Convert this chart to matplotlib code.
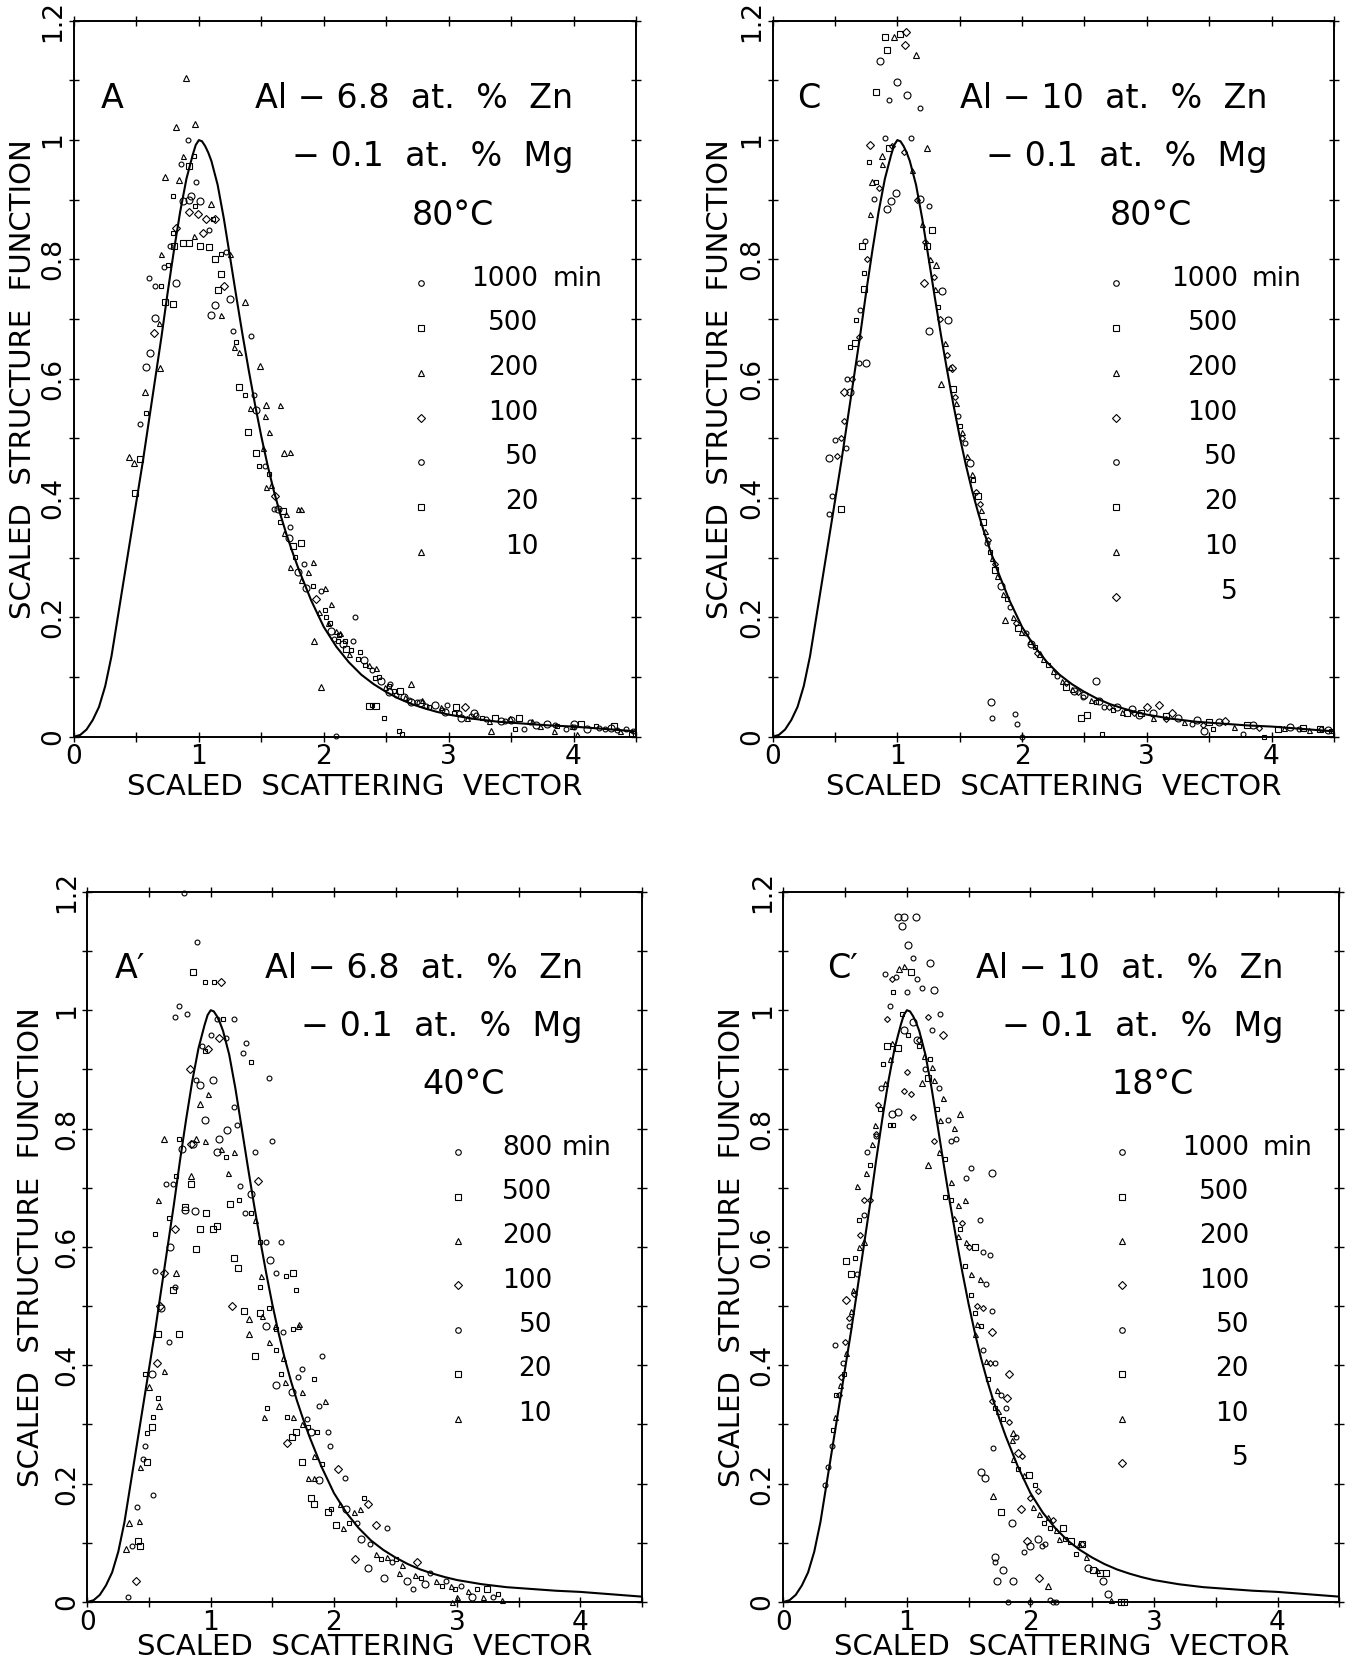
import matplotlib
matplotlib.use("Agg")
import matplotlib.pyplot as plt
from matplotlib.ticker import MultipleLocator

plt.rcParams['font.family'] = ['DejaVu Sans']

# scaling function (solid line); same in all four panels
curve_x = [0, 0.05, 0.1, 0.15, 0.2, 0.25, 0.3, 0.35, 0.4, 0.45, 0.5, 0.55, 0.6,
           0.65, 0.7, 0.75, 0.8, 0.85, 0.9, 0.95, 0.975, 1.0, 1.025, 1.05, 1.075,
           1.1, 1.15, 1.2, 1.25, 1.3, 1.35, 1.4, 1.45, 1.5, 1.55, 1.6, 1.65, 1.7,
           1.75, 1.8, 1.9, 2.0, 2.1, 2.2, 2.3, 2.4, 2.5, 2.6, 2.7, 2.8, 2.9, 3.0,
           3.2, 3.4, 3.6, 3.8, 4.0, 4.25, 4.5]
curve_y = [0, 0.003, 0.012, 0.028, 0.05, 0.085, 0.135, 0.2, 0.265, 0.33, 0.395,
           0.46, 0.53, 0.6, 0.67, 0.745, 0.815, 0.88, 0.935, 0.975, 0.992, 1.0,
           0.998, 0.99, 0.979, 0.965, 0.925, 0.868, 0.803, 0.737, 0.673, 0.613,
           0.556, 0.503, 0.455, 0.412, 0.374, 0.34, 0.309, 0.28, 0.228, 0.184,
           0.151, 0.125, 0.104, 0.088, 0.075, 0.064, 0.055, 0.048, 0.042, 0.037,
           0.03, 0.025, 0.022, 0.019, 0.017, 0.013, 0.009]

# ---------------- panel A : Al-6.8Zn-0.1Mg, 80 C ----------------
A_1000 = [(0.58, 0.62), (0.61, 0.643), (0.82, 0.76), (0.92, 0.9), (0.94, 0.907),
          (1.01, 0.898), (1.13, 0.724), (1.1, 0.707), (1.25, 0.733), (1.46, 0.547),
          (1.63, 0.382), (1.72, 0.333), (1.79, 0.276), (1.86, 0.249), (2.06, 0.178),
          (2.15, 0.156), (2.32, 0.129), (2.46, 0.093), (2.7, 0.058), (2.89, 0.053),
          (3.1, 0.031), (3.42, 0.027), (3.79, 0.022), (4.11, 0.013), (0.65, 0.702),
          (0.87, 0.898), (2.52, 0.075), (2.64, 0.066), (2.77, 0.056), (2.97, 0.042),
          (3.2, 0.04), (3.5, 0.028), (3.7, 0.02), (4.0, 0.022), (4.3, 0.014)]
A_500 = [(0.49, 0.408), (0.53, 0.465), (0.73, 0.729), (0.79, 0.726), (0.8, 0.822),
         (0.92, 0.956), (0.87, 0.828), (0.92, 0.827), (1.01, 0.822), (1.08, 0.82),
         (1.13, 0.8), (1.18, 0.776), (1.15, 0.748), (1.32, 0.587), (1.39, 0.511),
         (1.46, 0.476), (1.67, 0.378), (1.75, 0.32), (1.82, 0.324), (2.18, 0.147),
         (2.61, 0.076), (3.06, 0.049), (3.37, 0.031), (3.56, 0.031), (4.06, 0.022),
         (4.32, 0.018), (2.36, 0.052), (2.42, 0.052)]
A_200 = [(0.44, 0.468), (0.48, 0.458), (0.57, 0.578), (0.69, 0.618), (0.73, 0.938),
         (0.84, 0.933), (0.9, 1.104), (0.82, 1.022), (0.97, 1.027), (1.1, 0.893),
         (1.37, 0.729), (1.49, 0.622), (1.54, 0.556), (1.68, 0.476), (1.92, 0.16),
         (1.98, 0.084), (3.34, 0.009), (2.7, 0.089)]
A_100 = [(0.64, 0.676), (0.92, 0.88), (0.99, 0.876), (1.06, 0.868), (1.13, 0.868),
         (1.2, 0.756), (1.61, 0.404), (1.94, 0.231), (3.13, 0.049), (0.82, 0.853),
         (1.03, 0.844)]
A_50 = [(0.53, 0.524), (0.6, 0.769), (0.65, 0.756), (0.72, 0.787), (0.77, 0.822),
        (0.86, 0.96), (0.91, 1.0), (0.98, 0.929), (1.08, 0.849), (1.22, 0.813),
        (1.27, 0.68), (1.42, 0.671), (1.44, 0.573), (1.53, 0.453), (1.6, 0.382),
        (1.73, 0.351), (1.84, 0.289), (1.98, 0.244), (2.08, 0.164), (2.23, 0.16),
        (2.25, 0.2), (2.39, 0.111), (2.53, 0.089), (2.75, 0.058), (2.99, 0.053),
        (3.22, 0.036), (3.6, 0.013), (3.94, 0.013), (4.25, 0.013), (4.42, 0.013),
        (2.1, 0.002), (2.58, 0.07), (2.68, 0.062), (2.82, 0.052), (2.95, 0.045),
        (3.08, 0.04), (3.18, 0.035), (3.3, 0.03), (3.45, 0.026), (3.65, 0.024),
        (3.85, 0.02), (4.0, 0.016), (4.2, 0.015), (4.35, 0.012), (4.48, 0.01)]
A_20 = [(0.58, 0.543), (0.7, 0.756), (0.75, 0.791), (0.79, 0.844), (0.79, 0.907),
        (0.96, 0.973), (0.97, 0.889), (1.11, 0.867), (1.18, 0.809), (1.3, 0.662),
        (1.37, 0.573), (1.48, 0.453), (1.56, 0.44), (1.65, 0.36), (1.77, 0.302),
        (1.91, 0.253), (2.01, 0.213), (2.11, 0.16), (2.29, 0.142), (2.41, 0.098),
        (2.56, 0.076), (2.84, 0.049), (3.04, 0.04), (3.27, 0.031), (3.53, 0.013),
        (3.87, 0.018), (4.18, 0.018), (4.46, 0.004), (2.48, 0.031), (2.6, 0.009),
        (2.63, 0.004), (2.39, 0.053), (2.02, 0.2), (2.05, 0.19), (2.12, 0.17),
        (2.17, 0.16), (2.22, 0.145), (2.27, 0.13), (2.33, 0.12), (2.44, 0.1),
        (2.52, 0.085)]
A_10 = [(0.68, 0.693), (0.7, 0.809), (0.87, 0.973), (0.96, 0.84), (1.18, 0.707),
        (1.25, 0.809), (1.28, 0.653), (1.32, 0.644), (1.41, 0.551), (1.51, 0.484),
        (1.56, 0.511), (1.58, 0.422), (1.54, 0.418), (1.65, 0.556), (1.73, 0.477),
        (1.79, 0.382), (1.82, 0.382), (1.68, 0.342), (1.73, 0.284), (1.82, 0.262),
        (1.87, 0.276), (1.91, 0.293), (1.96, 0.209), (2.01, 0.249), (2.03, 0.191),
        (2.06, 0.222), (2.1, 0.178), (2.13, 0.173), (2.2, 0.138), (2.36, 0.12),
        (2.42, 0.116), (2.49, 0.084), (2.65, 0.067), (2.79, 0.062), (2.94, 0.049),
        (3.15, 0.031), (3.32, 0.027), (3.49, 0.031), (3.67, 0.027), (3.73, 0.018),
        (3.84, 0.009), (3.99, 0.018), (4.03, 0.004), (4.37, 0.009), (1.7, 0.373),
        (1.53, 0.538)]

# ---------------- panel C : Al-10Zn-0.1Mg, 80 C ----------------
C_1000 = [(0.45, 0.467), (0.75, 0.627), (0.92, 0.884), (0.99, 0.911), (0.95, 0.898),
          (0.86, 1.133), (1.0, 1.098), (1.18, 0.902), (1.25, 0.68), (1.41, 0.698),
          (1.58, 0.458), (1.83, 0.253), (2.07, 0.156), (2.42, 0.076), (2.59, 0.093),
          (2.94, 0.036), (3.46, 0.009), (1.75, 0.058), (0.62, 0.578), (1.08, 1.076),
          (1.36, 0.747), (2.5, 0.07), (2.62, 0.06), (2.76, 0.05), (2.88, 0.046),
          (3.05, 0.04), (3.25, 0.032), (3.4, 0.028), (3.58, 0.024), (3.85, 0.02),
          (4.15, 0.016), (4.45, 0.012)]
C_500 = [(0.55, 0.382), (0.72, 0.822), (0.73, 0.75), (0.66, 0.66), (0.9, 1.173),
         (0.92, 1.151), (1.02, 1.178), (0.83, 1.08), (1.24, 0.822), (1.28, 0.849),
         (1.45, 0.582), (1.65, 0.404), (1.69, 0.36), (1.78, 0.28), (1.97, 0.182),
         (2.35, 0.084), (2.47, 0.031), (2.52, 0.036), (2.84, 0.04), (4.05, 0.013),
         (4.39, 0.013), (0.93, 0.987), (2.95, 0.04), (3.15, 0.035), (3.5, 0.025),
         (3.8, 0.02), (4.25, 0.014)]
C_200 = [(0.88, 0.973), (0.97, 1.173), (1.15, 1.142), (1.31, 0.791), (1.86, 0.196),
         (1.35, 0.591), (2.14, 0.138), (0.8, 0.929), (1.24, 0.987)]
C_100 = [(0.57, 0.578), (1.07, 1.182), (1.06, 1.16), (3.0, 0.049), (3.2, 0.04),
         (3.63, 0.027), (0.78, 0.991), (1.21, 0.76), (1.44, 0.618), (3.1, 0.053)]
C_50 = [(0.45, 0.373), (0.48, 0.404), (0.5, 0.498), (0.59, 0.484), (0.6, 0.6),
        (0.69, 0.627), (0.7, 0.715), (0.74, 0.831), (0.81, 0.902), (0.93, 1.067),
        (1.11, 1.004), (0.9, 1.004), (1.18, 1.053), (1.25, 0.889), (1.49, 0.538),
        (1.54, 0.493), (1.72, 0.324), (1.9, 0.218), (2.03, 0.173), (2.28, 0.102),
        (2.49, 0.067), (2.66, 0.049), (3.36, 0.022), (3.77, 0.004), (4.22, 0.013),
        (1.76, 0.031), (1.94, 0.038), (1.96, 0.022), (2.0, 0.0)]
C_20 = [(0.62, 0.653), (0.67, 0.698), (0.73, 0.778), (0.77, 0.964), (0.83, 0.929),
        (1.33, 0.72), (1.5, 0.52), (1.61, 0.43), (1.74, 0.31), (1.88, 0.23),
        (2.1, 0.15), (2.21, 0.12), (2.59, 0.058), (2.73, 0.044), (3.53, 0.013),
        (3.94, 0.0), (4.48, 0.009), (2.64, 0.004)]
C_10 = [(0.78, 0.876), (0.88, 0.96), (1.12, 0.95), (1.2, 0.86), (1.26, 0.8),
        (1.3, 0.75), (1.38, 0.66), (1.42, 0.62), (1.47, 0.56), (1.52, 0.51),
        (1.56, 0.47), (1.6, 0.44), (1.67, 0.38), (1.7, 0.345), (1.76, 0.3),
        (1.8, 0.27), (1.85, 0.24), (1.93, 0.2), (1.99, 0.175), (2.06, 0.16),
        (2.17, 0.13), (2.25, 0.11), (2.32, 0.093), (2.4, 0.08), (2.55, 0.062),
        (2.8, 0.042), (3.05, 0.032), (3.3, 0.024), (3.7, 0.016), (4.1, 0.014),
        (4.3, 0.012)]
C_5 = [(0.52, 0.47), (0.55, 0.5), (0.57, 0.53), (0.64, 0.6), (0.69, 0.67),
       (0.76, 0.8), (0.85, 0.92), (0.96, 0.99), (1.05, 0.98), (1.16, 0.9),
       (1.22, 0.83), (1.29, 0.77), (1.34, 0.7), (1.4, 0.64), (1.46, 0.57),
       (1.52, 0.5), (1.63, 0.41), (1.66, 0.39), (1.73, 0.33), (1.78, 0.29),
       (1.95, 0.19), (2.12, 0.14), (2.35, 0.09), (2.45, 0.075), (2.7, 0.05),
       (2.9, 0.04), (3.15, 0.03), (3.45, 0.02), (3.9, 0.015), (4.4, 0.013)]

# ---------------- panel A' : Al-6.8Zn-0.1Mg, 40 C ----------------
A2_800 = [(0.52, 0.385), (0.6, 0.497), (0.67, 0.6), (0.79, 0.663), (0.87, 0.66),
          (0.77, 0.765), (0.86, 0.774), (0.95, 0.815), (1.02, 0.882), (0.91, 0.873),
          (1.13, 0.797), (1.07, 0.783), (1.33, 0.689), (1.48, 0.578), (1.45, 0.466),
          (1.53, 0.367), (1.66, 0.354), (1.81, 0.287), (1.88, 0.206), (2.1, 0.157),
          (2.22, 0.107), (2.28, 0.058), (2.41, 0.04), (2.59, 0.036), (2.74, 0.031),
          (3.12, 0.009), (1.05, 0.761)]
A2_500 = [(0.41, 0.103), (0.43, 0.094), (0.48, 0.237), (0.52, 0.295), (0.74, 0.452),
          (0.57, 0.452), (0.69, 0.528), (0.88, 0.596), (0.84, 0.707), (0.79, 0.667),
          (0.96, 0.658), (0.91, 0.631), (1.02, 0.631), (1.05, 0.636), (0.86, 1.065),
          (1.16, 0.672), (1.19, 0.582), (1.22, 0.564), (1.27, 0.492), (1.4, 0.488),
          (1.36, 0.416), (1.67, 0.556), (1.66, 0.278), (1.69, 0.287), (1.74, 0.237),
          (1.81, 0.175), (1.84, 0.166), (1.95, 0.152), (2.02, 0.13), (3.24, 0.022)]
A2_200 = [(0.31, 0.09), (0.34, 0.134), (0.58, 0.331), (0.5, 0.363), (0.72, 0.556),
          (0.84, 0.72), (0.62, 0.783), (0.88, 0.783), (0.91, 0.842), (1.31, 0.479),
          (1.31, 0.452)]
A2_100 = [(0.39, 0.036), (0.56, 0.403), (0.59, 0.501), (0.62, 0.556), (0.71, 0.631),
          (0.84, 0.774), (0.83, 0.9), (0.98, 0.935), (1.08, 1.047), (1.07, 0.953),
          (1.38, 0.712), (1.17, 0.501), (1.62, 0.269), (2.03, 0.224), (2.28, 0.166),
          (2.34, 0.13), (2.17, 0.072), (2.67, 0.067)]
A2_50 = [(0.33, 0.009), (0.36, 0.094), (0.4, 0.161), (0.45, 0.242), (0.47, 0.264),
         (0.53, 0.18), (0.55, 0.56), (0.66, 0.439), (0.71, 0.533), (0.64, 0.707),
         (0.69, 0.707), (0.74, 1.007), (0.81, 0.993), (0.71, 0.989), (0.88, 0.882),
         (0.93, 0.94), (1.0, 0.958), (1.05, 0.985), (1.19, 0.985), (1.12, 0.953),
         (1.29, 0.944), (1.26, 0.927), (1.47, 0.886), (1.5, 0.779), (1.19, 0.837),
         (1.21, 0.806), (1.36, 0.761), (1.24, 0.703), (1.28, 0.658), (1.45, 0.609),
         (1.57, 0.609), (1.53, 0.556), (1.59, 0.457), (1.74, 0.394), (1.9, 0.416),
         (1.71, 0.381), (1.78, 0.309), (1.95, 0.287), (1.88, 0.331), (1.97, 0.264),
         (2.09, 0.21), (2.19, 0.134), (2.29, 0.098), (2.43, 0.125), (2.47, 0.067),
         (2.64, 0.022), (2.78, 0.049), (2.91, 0.036), (3.03, 0.027), (3.29, 0.009),
         (0.89, 1.115), (0.78, 1.198)]
A2_20 = [(0.47, 0.385), (0.48, 0.286), (0.53, 0.313), (0.57, 0.345), (0.55, 0.622),
         (0.66, 0.649), (0.72, 0.72), (0.74, 0.783), (0.95, 1.047), (1.03, 1.047),
         (0.95, 0.931), (1.1, 0.985), (1.33, 0.913), (1.12, 0.752), (1.23, 0.68),
         (1.33, 0.658), (1.4, 0.609), (1.61, 0.551), (1.69, 0.528), (1.4, 0.533),
         (1.47, 0.497), (1.53, 0.461), (1.67, 0.461), (1.53, 0.425), (1.57, 0.385),
         (1.84, 0.376), (1.46, 0.327), (1.62, 0.313), (1.79, 0.295), (1.86, 0.287),
         (1.9, 0.233), (1.98, 0.157), (2.12, 0.134), (2.24, 0.175), (2.38, 0.072),
         (2.5, 0.072), (2.71, 0.04), (2.88, 0.027), (2.98, 0.022), (3.16, 0.022),
         (3.33, 0.013)]
A2_10 = [(0.42, 0.136), (0.43, 0.228), (0.57, 0.68), (0.62, 0.39), (0.95, 0.779),
         (0.98, 0.859), (1.08, 0.765), (1.14, 0.725), (1.19, 0.761), (1.36, 0.645),
         (1.41, 0.551), (1.42, 0.484), (1.47, 0.439), (1.52, 0.467), (1.6, 0.372),
         (1.67, 0.313), (1.71, 0.466), (1.72, 0.47), (1.74, 0.354), (1.74, 0.3),
         (1.93, 0.34), (1.79, 0.21), (1.84, 0.21), (1.84, 0.246), (2.05, 0.166),
         (2.07, 0.125), (2.16, 0.152), (2.21, 0.157), (2.34, 0.081), (2.43, 0.076),
         (2.53, 0.049), (2.55, 0.063), (2.66, 0.045), (2.83, 0.036), (2.95, 0.027),
         (3.09, 0.018), (3.21, 0.009), (3.36, 0.004), (3.0, 0.009), (2.96, 0.0),
         (1.43, 0.313), (1.59, 0.412)]

# ---------------- panel C' : Al-10Zn-0.1Mg, 18 C ----------------
C2_1000 = [(0.93, 1.158), (0.98, 1.158), (1.07, 1.158), (0.96, 1.143), (1.01, 1.11),
           (0.88, 0.824), (0.93, 0.828), (1.08, 0.949), (1.69, 0.725), (1.05, 0.98),
           (0.98, 0.967), (1.19, 1.079), (1.22, 1.034), (1.6, 0.219), (1.63, 0.21),
           (1.85, 0.134), (2.0, 0.094), (2.06, 0.107), (2.47, 0.058), (2.59, 0.036),
           (2.63, 0.013), (1.71, 0.076), (1.73, 0.036), (1.86, 0.036), (1.78, 0.054)]
C2_500 = [(0.51, 0.577), (0.55, 0.555), (0.93, 0.936), (1.03, 1.065), (1.99, 0.215),
          (1.76, 0.152), (2.26, 0.125), (2.33, 0.103), (2.42, 0.098), (2.51, 0.054),
          (2.56, 0.049), (2.61, 0.049), (2.73, 0.0), (2.76, 0.0), (0.84, 0.94),
          (1.17, 0.886), (1.55, 0.6)]
C2_200 = [(0.65, 0.609), (1.43, 0.824), (1.17, 0.739), (1.7, 0.179), (0.94, 1.07),
          (1.12, 0.877), (2.14, 0.027), (1.86, 0.286)]
C2_100 = [(1.83, 0.385), (1.81, 0.345), (1.69, 0.457), (1.9, 0.251), (1.92, 0.157),
          (1.97, 0.103), (2.07, 0.04), (0.51, 0.51), (1.29, 0.958)]
C2_50 = [(0.34, 0.197), (0.36, 0.228), (0.39, 0.264), (0.42, 0.434), (0.48, 0.403),
         (0.53, 0.466), (0.6, 0.555), (0.65, 0.654), (0.68, 0.761), (0.75, 0.788),
         (0.79, 0.868), (0.82, 1.061), (0.86, 1.007), (0.91, 1.056), (1.0, 1.03),
         (1.05, 1.088), (1.08, 1.052), (1.12, 1.038), (1.27, 0.994), (1.2, 0.967),
         (1.15, 0.9), (1.26, 0.868), (1.33, 0.815), (1.4, 0.783), (1.36, 0.779),
         (1.48, 0.716), (1.52, 0.734), (1.59, 0.645), (1.62, 0.591), (1.67, 0.586),
         (1.64, 0.537), (1.69, 0.492), (1.62, 0.425), (1.71, 0.403), (1.76, 0.349),
         (1.8, 0.327), (1.88, 0.278), (1.95, 0.085), (2.09, 0.094), (2.12, 0.098),
         (2.16, 0.004), (2.21, 0.0), (2.18, 0.0), (1.82, 0.0), (2.0, 0.0),
         (1.7, 0.26), (1.71, 0.067)]
C2_20 = [(0.4, 0.291), (0.43, 0.349), (0.49, 0.385), (0.58, 0.582), (0.61, 0.645),
         (0.7, 0.739), (0.78, 0.833), (0.81, 0.909), (0.86, 0.806), (0.89, 0.806),
         (0.89, 1.03), (0.96, 0.994), (1.01, 0.958), (1.1, 0.94), (1.19, 0.918),
         (1.24, 0.833), (1.31, 0.748), (1.31, 0.685), (1.36, 0.68), (1.43, 0.631),
         (1.47, 0.568), (1.52, 0.519), (1.55, 0.488), (1.6, 0.466), (1.66, 0.376),
         (1.71, 0.327), (1.78, 0.309), (1.9, 0.224), (2.04, 0.197), (2.11, 0.134),
         (2.16, 0.125), (2.28, 0.107), (2.37, 0.081)]
C2_10 = [(0.42, 0.313), (0.46, 0.367), (0.51, 0.421), (0.55, 0.492), (0.56, 0.528),
         (0.61, 0.6), (0.6, 0.703), (0.67, 0.725), (0.72, 0.774), (0.74, 0.806),
         (0.82, 0.877), (0.86, 0.918), (0.88, 0.944), (0.98, 1.074), (1.14, 0.922),
         (1.2, 0.904), (1.22, 0.882), (1.29, 0.851), (1.27, 0.815), (1.38, 0.801),
         (1.26, 0.761), (1.36, 0.71), (1.41, 0.671), (1.47, 0.68), (1.38, 0.649),
         (1.41, 0.618), (1.48, 0.609), (1.52, 0.555), (1.59, 0.546), (1.57, 0.47),
         (1.55, 0.452), (1.64, 0.407), (1.73, 0.358), (1.74, 0.322), (1.85, 0.273),
         (1.86, 0.242), (1.95, 0.215), (2.02, 0.161), (2.07, 0.148), (2.14, 0.143),
         (2.21, 0.121), (2.23, 0.107), (2.39, 0.098), (2.45, 0.076), (2.54, 0.054),
         (2.65, 0.004)]
C2_5 = [(0.45, 0.35), (0.47, 0.38), (0.5, 0.44), (0.53, 0.48), (0.57, 0.52),
        (0.62, 0.62), (0.65, 0.68), (0.7, 0.68), (0.75, 0.79), (0.77, 0.84),
        (0.84, 0.985), (0.88, 1.052), (1.03, 0.859), (0.98, 0.864), (1.05, 0.819),
        (1.0, 0.895), (1.1, 0.95), (1.17, 0.989), (1.22, 0.779), (1.45, 0.64),
        (1.5, 0.6), (1.57, 0.5), (1.62, 0.497), (1.67, 0.403), (1.69, 0.34),
        (1.83, 0.304), (1.93, 0.246), (2.06, 0.188), (2.18, 0.139), (2.0, 0.175),
        (2.42, 0.098)]

# marker shape and size for each ageing time
STYLE = {'1000': ('o', 5.0), '800': ('o', 5.0), '500': ('s', 4.5), '200': ('^', 5.0),
         '100': ('D', 4.2), '50': ('o', 3.5), '20': ('s', 3.2), '10': ('^', 3.6),
         '5': ('D', 3.0)}

LABEL_FS = 21
TICK_FS = 19
TITLE_FS = 24
LEG_FS = 19

fig = plt.figure(figsize=(13.46, 16.63), dpi=100)


def draw_panel(rect, series, tag, tag_x, alloy, temp, txt_right, temp_x,
               leg_x, leg_right, min_x, ylab_x, xlab_y):
    ax = fig.add_axes(rect)
    ax.plot(curve_x, curve_y, color='black', lw=1.5, zorder=3)
    for name, pts in series:
        mk, ms = STYLE[name]
        ax.plot([p[0] for p in pts], [p[1] for p in pts], ls='none', marker=mk,
                ms=ms, mfc='none', mec='black', mew=0.8, zorder=4, clip_on=False)

    ax.set_xlim(0, 4.5)
    ax.set_ylim(0, 1.2)
    ax.set_xticks([0, 1, 2, 3, 4])
    ax.set_xticklabels(['0', '1', '2', '3', '4'])
    ax.set_yticks([0, 0.2, 0.4, 0.6, 0.8, 1.0, 1.2])
    ax.set_yticklabels(['0', '0.2', '0.4', '0.6', '0.8', '1', '1.2'])
    ax.xaxis.set_minor_locator(MultipleLocator(0.5))
    ax.yaxis.set_minor_locator(MultipleLocator(0.1))
    ax.tick_params(which='both', direction='inout', length=7, width=1.0,
                   top=True, right=True, labelsize=TICK_FS, pad=2)
    plt.setp(ax.get_yticklabels(), rotation=90, va='center')
    for s in ax.spines.values():
        s.set_linewidth(1.4)

    ax.set_xlabel('SCALED  SCATTERING  VECTOR', fontsize=LABEL_FS, va='center')
    ax.set_ylabel('SCALED  STRUCTURE  FUNCTION', fontsize=LABEL_FS, va='center')
    ax.xaxis.set_label_coords(0.5, xlab_y)
    ax.yaxis.set_label_coords(ylab_x, 0.5)

    ax.text(tag_x, 1.07, tag, fontsize=TITLE_FS, ha='left', va='center')
    ax.text(txt_right, 1.07, alloy, fontsize=TITLE_FS, ha='right', va='center')
    ax.text(txt_right, 0.972, '\u2212 0.1  at.  %  Mg', fontsize=TITLE_FS,
            ha='right', va='center')
    ax.text(temp_x, 0.874, temp, fontsize=TITLE_FS, ha='center', va='center')

    # legend column
    for i, (name, pts) in enumerate(series):
        yy = 0.768 - 0.075 * i
        mk, ms = STYLE[name]
        ax.plot([leg_x], [yy - 0.008], marker=mk, ms=4.0, mfc='none', mec='black',
                mew=0.8, ls='none')
        ax.text(leg_right, yy, name, fontsize=LEG_FS, ha='right', va='center')
        if i == 0:
            ax.text(min_x, yy, 'min', fontsize=LEG_FS, ha='left', va='center')
    return ax


draw_panel([0.055, 0.557, 0.4175, 0.4305],
           [('1000', A_1000), ('500', A_500), ('200', A_200), ('100', A_100),
            ('50', A_50), ('20', A_20), ('10', A_10)],
           'A', 0.216, 'Al \u2212 6.8  at.  %  Zn', '80\u00b0C', 4.0, 3.03,
           2.78, 3.72, 3.83, -0.09, -0.07)

draw_panel([0.574, 0.557, 0.417, 0.4305],
           [('1000', C_1000), ('500', C_500), ('200', C_200), ('100', C_100),
            ('50', C_50), ('20', C_20), ('10', C_10), ('5', C_5)],
           'C', 0.2, 'Al \u2212 10  at.  %  Zn', '80\u00b0C', 3.97, 3.03,
           2.75, 3.73, 3.84, -0.093, -0.07)

draw_panel([0.065, 0.0367, 0.412, 0.427],
           [('800', A2_800), ('500', A2_500), ('200', A2_200), ('100', A2_100),
            ('50', A2_50), ('20', A2_20), ('10', A2_10)],
           'A\u2032', 0.22, 'Al \u2212 6.8  at.  %  Zn', '40\u00b0C', 4.02, 3.05,
           3.01, 3.77, 3.85, -0.101, -0.063)

draw_panel([0.582, 0.0367, 0.413, 0.427],
           [('1000', C2_1000), ('500', C2_500), ('200', C2_200), ('100', C2_100),
            ('50', C2_50), ('20', C2_20), ('10', C2_10), ('5', C2_5)],
           'C\u2032', 0.356, 'Al \u2212 10  at.  %  Zn', '18\u00b0C', 4.05, 2.99,
           2.74, 3.77, 3.88, -0.092, -0.063)

fig.savefig('out.png', dpi=100)
